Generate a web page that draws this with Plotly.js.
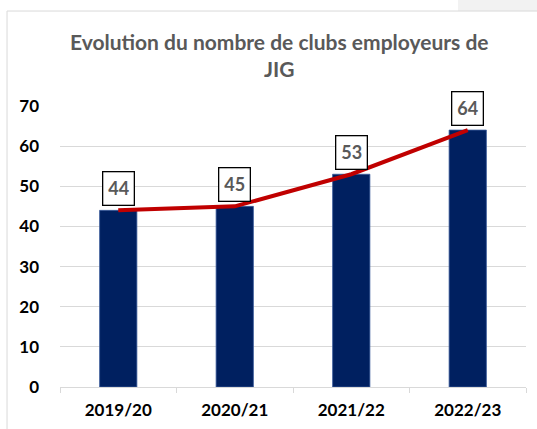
<!DOCTYPE html>
<html>
<head>
<meta charset="utf-8">
<script src="https://cdn.plot.ly/plotly-3.0.1.min.js"></script>
<style>html,body{margin:0;padding:0;background:#fff;}#chart{width:537px;height:429px;}</style>
</head>
<body>
<div id="chart"></div>
<script>
const categories = ["2019/20", "2020/21", "2021/22", "2022/23"];
const clubs = [44, 45, 53, 64];
const yTicks = [0, 10, 20, 30, 40, 50, 60, 70];
const titleText = "Evolution du nombre de clubs employeurs de<br>JIG";

const FONT = "Lato, 'Open Sans', sans-serif";

const traces = [
  {
    type: "bar",
    x: categories,
    y: clubs,
    width: 0.32,
    marker: {color: "#002060", line: {color: "#3a5a9a", width: 0.8}},
    hoverinfo: "skip",
    showlegend: false
  },
  {
    type: "scatter",
    mode: "lines",
    x: categories,
    y: clubs,
    line: {color: "#c00000", width: 4},
    hoverinfo: "skip",
    showlegend: false
  }
];

const annotations = categories.map((c, i) => ({
  x: c, y: clubs[i], xref: "x", yref: "y",
  text: "<b>" + clubs[i] + "</b>",
  showarrow: false,
  yanchor: "middle",
  yshift: 22,
  font: {family: FONT, size: 18, color: "#595959"},
  bgcolor: "#ffffff",
  bordercolor: "#000000",
  borderwidth: 1.3,
  borderpad: 5
}));

const layout = {
  width: 537, height: 429,
  margin: {l: 60, r: 11, t: 106, b: 42},
  paper_bgcolor: "#ffffff",
  plot_bgcolor: "#ffffff",
  font: {family: FONT, color: "#000000"},
  title: {
    text: "<b>" + titleText + "</b>",
    x: 0.52, xanchor: "center",
    y: 1 - 50/429, yanchor: "top", yref: "container",
    font: {family: FONT, size: 21, color: "#595959"}
  },
  xaxis: {
    type: "category",
    showgrid: false,
    showline: true, linecolor: "#d9d9d9", linewidth: 1,
    ticks: "outside", tickson: "boundaries", ticklen: 5, tickcolor: "#d9d9d9",
    tickfont: {family: FONT, size: 17, color: "#000000", weight: "bold"},
    ticklabelstandoff: 8,
    fixedrange: true
  },
  yaxis: {
    range: [0, 70],
    tickvals: yTicks,
    showgrid: true, gridcolor: "#d9d9d9", gridwidth: 1,
    zeroline: false, showline: false,
    ticks: "", ticklabelstandoff: 20,
    tickfont: {family: FONT, size: 17, color: "#000000", weight: "bold"},
    fixedrange: true
  },
  bargap: 0.68,
  annotations: annotations,
  shapes: [
    {type: "rect", xref: "paper", yref: "paper", x0: 0.854, x1: 1.2, y0: 1.338, y1: 1.6,
     fillcolor: "#f2f2f2", line: {width: 0}, layer: "below"},
    {type: "rect", xref: "paper", yref: "paper", x0: -0.1137, x1: 1.2, y0: -0.3, y1: 1.338,
     fillcolor: "rgba(0,0,0,0)", line: {color: "#d9d9d9", width: 1}, layer: "below"}
  ]
};

Plotly.newPlot("chart", traces, layout, {displayModeBar: false, staticPlot: true});
</script>
</body>
</html>
